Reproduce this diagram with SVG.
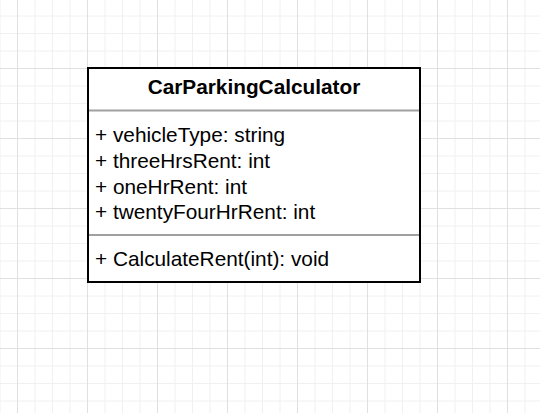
<svg xmlns="http://www.w3.org/2000/svg" width="540" height="413" viewBox="0 0 540 413">
<defs>
<pattern id="grid" x="17" y="-2" width="70" height="70" patternUnits="userSpaceOnUse">
<path d="M18 0V70M35.5 0V70M53 0V70M0 18H70M0 35.5H70M0 53H70" fill="none" stroke="#f0f0f0" stroke-width="1"/>
<path d="M0.5 0V70M0 0.5H70" fill="none" stroke="#e0e0e0" stroke-width="1"/>
</pattern>
<style>
.t{font-family:"Liberation Sans",Arial,sans-serif;font-size:20.8px;fill:#000}
.b{font-weight:bold}
.div{stroke:#a0a0a0;stroke-width:2}
</style>
</defs>
<rect width="540" height="413" fill="#fff"/>
<rect width="540" height="413" fill="url(#grid)"/>
<g id="CarParkingCalculator">
<rect x="88" y="68" width="332" height="214" fill="#fff" stroke="#000" stroke-width="2"/>
<line class="div" x1="89" y1="110.5" x2="419" y2="110.5"/>
<line class="div" x1="89" y1="235" x2="419" y2="235"/>
<text class="t b" x="254" y="94" text-anchor="middle">CarParkingCalculator</text>
<text class="t" x="95" y="142">+ vehicleType: string</text>
<text class="t" x="95" y="168">+ threeHrsRent: int</text>
<text class="t" x="95" y="193.5">+ oneHrRent: int</text>
<text class="t" x="95" y="219">+ twentyFourHrRent: int</text>
<text class="t" x="95" y="266">+ CalculateRent(int): void</text>
</g>
<g id="connectors"/>
</svg>
